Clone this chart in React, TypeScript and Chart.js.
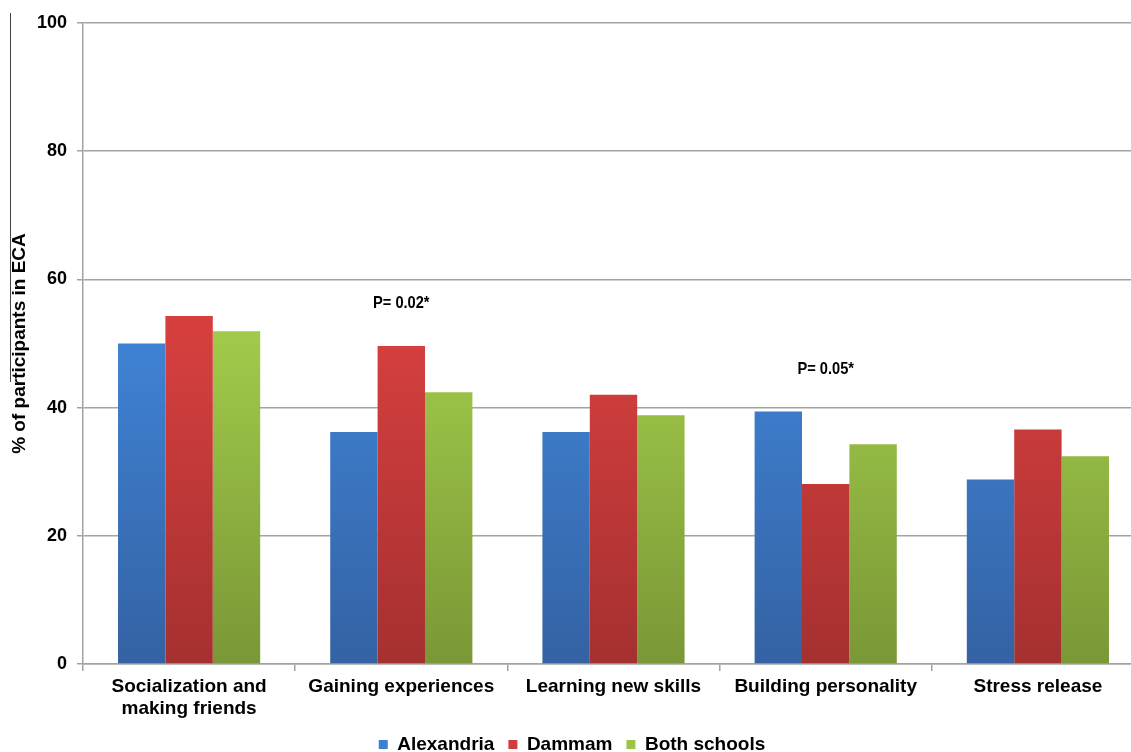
import React, { useEffect, useRef } from 'react';
import { Chart, registerables } from 'chart.js';

Chart.register(...registerables);

const categories: (string | string[])[] = [
  ['Socialization and', 'making friends'],
  'Gaining experiences',
  'Learning new skills',
  'Building personality',
  'Stress release',
];
const seriesNames = ['Alexandria', 'Dammam', 'Both schools'];
const alexandria = [50.0, 36.2, 36.2, 39.4, 28.8];
const dammam = [54.3, 49.6, 42.0, 28.1, 36.6];
const bothSchools = [51.9, 42.4, 38.8, 34.3, 32.4];
const yTickStep = 20;
const yMax = 100;
const annotationIndex = [1, 3];
const annotationValue = [56.2, 46.0];
const annotationText = ['P= 0.02*', 'P= 0.05*'];
const yTitle = '% of participants in ECA';

const FONT = '"Liberation Sans", Arial, Helvetica, sans-serif';
const gridColor = '#a3a3a3';
const solidColors = ['#3d7fd0', '#cf3d3c', '#9cc548'];
const gradStops = [
  ['#4a8fe2', '#3f82d4', '#3462a3'],
  ['#e04644', '#d43f3e', '#a53030'],
  ['#a9d650', '#a0c94a', '#7a9736'],
];

function makeFill(i: number) {
  return (ctx: any) => {
    const chart = ctx.chart;
    const area = chart.chartArea;
    if (!area) return solidColors[i];
    const g = chart.ctx.createLinearGradient(0, area.top, 0, area.bottom);
    g.addColorStop(0, gradStops[i][0]);
    g.addColorStop(0.5, gradStops[i][1]);
    g.addColorStop(1, gradStops[i][2]);
    return g;
  };
}

const extrasPlugin = {
  id: 'extras',
  afterDatasetsDraw(chart: any) {
    const { ctx, scales } = chart;
    const x = scales.x;
    const y = scales.y;
    annotationIndex.forEach((idx, i) => {
      const px = x.getPixelForValue(idx);
      const py = y.getPixelForValue(annotationValue[i]);
      ctx.save();
      ctx.translate(px, py);
      ctx.scale(0.86, 1);
      ctx.font = 'bold 17px "Liberation Sans", Arial, sans-serif';
      ctx.fillStyle = '#000';
      ctx.textAlign = 'center';
      ctx.textBaseline = 'middle';
      ctx.fillText(annotationText[i], 0, 0);
      ctx.restore();
    });
  },
  afterDraw(chart: any) {
    const { ctx } = chart;
    ctx.save();
    ctx.strokeStyle = '#444';
    ctx.lineWidth = 1;
    ctx.beginPath();
    ctx.moveTo(10.5, 13);
    ctx.lineTo(10.5, 382);
    ctx.stroke();
    ctx.restore();
  },
};

export default function App() {
  const ref = useRef<HTMLCanvasElement | null>(null);

  useEffect(() => {
    if (!ref.current) return;
    const seriesData = [alexandria, dammam, bothSchools];
    const chart = new Chart(ref.current, {
      type: 'bar',
      data: {
        labels: categories as any,
        datasets: seriesNames.map((name, i) => ({
          label: name,
          data: seriesData[i],
          backgroundColor: makeFill(i) as any,
          borderWidth: 0,
          categoryPercentage: 0.67,
          barPercentage: 1.0,
        })),
      },
      options: {
        responsive: false,
        animation: false,
        layout: { padding: { top: 23, right: 8, left: 0, bottom: 0 } },
        plugins: {
          tooltip: { enabled: false },
          legend: {
            position: 'bottom',
            labels: {
              boxWidth: 9,
              boxHeight: 9,
              padding: 14,
              color: '#000',
              font: { family: FONT, size: 19, weight: 'bold' },
              generateLabels: (c: any) =>
                c.data.datasets.map((d: any, i: number) => ({
                  text: d.label,
                  fillStyle: solidColors[i],
                  strokeStyle: solidColors[i],
                  lineWidth: 0,
                  hidden: false,
                  datasetIndex: i,
                })),
            },
          },
        },
        scales: {
          x: {
            grid: {
              drawOnChartArea: false,
              drawTicks: true,
              tickLength: 7,
              color: gridColor,
              lineWidth: 1.5,
              offset: true,
            },
            border: { color: gridColor, width: 1.5 },
            ticks: {
              color: '#000',
              padding: 5,
              maxRotation: 0,
              autoSkip: false,
              font: { family: FONT, size: 19, weight: 'bold', lineHeight: 1.16 },
            },
            afterFit: (s: any) => {
              s.height = 57;
            },
          },
          y: {
            min: 0,
            max: yMax,
            ticks: {
              stepSize: yTickStep,
              color: '#000',
              padding: 10,
              font: { family: FONT, size: 18, weight: 'bold' },
            },
            grid: { color: gridColor, lineWidth: 1.5, tickLength: 6 },
            border: { color: gridColor, width: 1.5 },
            title: {
              display: true,
              text: yTitle,
              color: '#000',
              font: { family: FONT, size: 19, weight: 'bold', lineHeight: 1.2 },
              padding: { top: 8, bottom: 0 },
            },
            afterFit: (s: any) => {
              s.width = 83;
            },
          },
        },
      } as any,
      plugins: [extrasPlugin],
    });
    return () => chart.destroy();
  }, []);

  return (
    <div
      style={{
        position: 'fixed',
        left: 0,
        top: 0,
        width: 1131,
        height: 752,
        overflow: 'hidden',
        background: '#fff',
      }}
    >
      <canvas ref={ref} width={1152} height={764} style={{ display: 'block' }} />
    </div>
  );
}
